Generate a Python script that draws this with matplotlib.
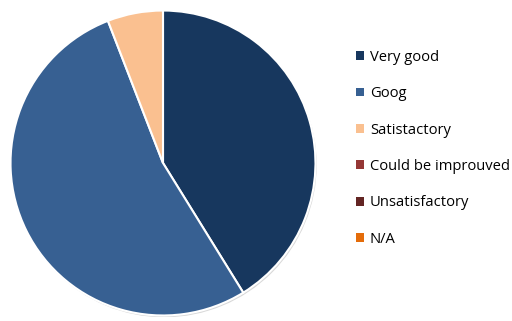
import matplotlib.pyplot as plt
from matplotlib.patches import Patch, Circle

labels = ['Very good', 'Goog', 'Satistactory', 'Could be improuved', 'Unsatisfactory', 'N/A']
values = [7, 9, 1, 0, 0, 0]
colors = ['#17375E', '#376092', '#FAC090', '#953735', '#632523', '#E46C0A']

plt.rcParams['font.family'] = ['Open Sans', 'DejaVu Sans']

fig = plt.figure(figsize=(5.12, 3.21), dpi=100)
ax = fig.add_axes([9 / 512, 4 / 321, 308 / 512, 308 / 321])

# faint shadow under the pie
ax.add_patch(Circle((0.008, -0.012), 1.0, facecolor='#d9d9d9', edgecolor='none', zorder=0))

# only the non-zero slices go into the pie, the legend shows all of them
pie_vals = [v for v in values if v > 0]
pie_cols = [c for v, c in zip(values, colors) if v > 0]
ax.pie(pie_vals, colors=pie_cols, startangle=90, counterclock=False, radius=1,
       wedgeprops=dict(edgecolor='white', linewidth=1.5, zorder=2))
ax.set_xlim(-1.01, 1.01)
ax.set_ylim(-1.01, 1.01)
ax.set_aspect('equal')
ax.axis('off')

handles = [Patch(facecolor=c, edgecolor='none') for c in colors]
fig.legend(handles, labels, loc='upper left', bbox_to_anchor=(350 / 512, 1 - 44 / 321),
           frameon=False, fontsize=10.6, handlelength=0.55, handleheight=0.55,
           handletextpad=0.4, labelspacing=1.45, borderaxespad=0)

fig.savefig('out.png', dpi=100)
